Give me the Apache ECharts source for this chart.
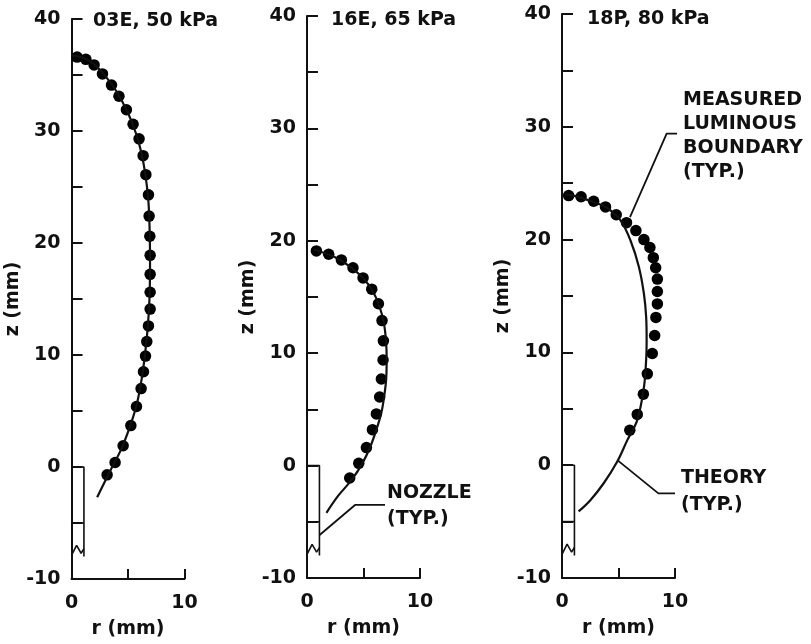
<!DOCTYPE html>
<html>
<head>
<meta charset="utf-8">
<title>Luminous boundary vs theory</title>
<script src="https://cdn.jsdelivr.net/npm/echarts@6/dist/echarts.min.js"></script>
<style>
  html, body { margin: 0; padding: 0; background: #fff; }
  #chart { width: 811px; height: 644px; }
</style>
</head>
<body>
<div id="chart"></div>
<script>
// panel labels
const panelTitles = ['03E, 50 kPa', '16E, 65 kPa', '18P, 80 kPa']

// measured luminous boundary, [r, z] in mm
const measured03E = [[0.5, 36.6], [1.27, 36.4], [2.0, 35.9], [2.74, 35.1], [3.54, 34.1], [4.2, 33.1], [4.86, 31.9], [5.45, 30.6], [5.98, 29.3], [6.34, 27.8], [6.58, 26.1], [6.81, 24.3], [6.87, 22.4], [6.93, 20.6], [6.96, 18.9], [6.96, 17.2], [6.96, 15.6], [6.96, 14.1], [6.81, 12.6], [6.66, 11.2], [6.55, 9.9], [6.37, 8.5], [6.16, 7.0], [5.75, 5.4], [5.25, 3.7], [4.57, 1.9], [3.86, 0.4], [3.15, -0.7]]
const measured16E = [[0.83, 19.1], [1.92, 18.8], [3.04, 18.3], [4.07, 17.6], [4.96, 16.7], [5.73, 15.7], [6.32, 14.4], [6.64, 12.9], [6.76, 11.1], [6.73, 9.4], [6.58, 7.7], [6.43, 6.1], [6.14, 4.6], [5.79, 3.2], [5.26, 1.6], [4.58, 0.2], [3.78, -1.1]]
const measured18P = [[0.59, 23.9], [1.69, 23.8], [2.8, 23.4], [3.85, 22.9], [4.8, 22.2], [5.71, 21.5], [6.54, 20.8], [7.25, 20.0], [7.78, 19.3], [8.08, 18.4], [8.29, 17.5], [8.44, 16.5], [8.44, 15.4], [8.44, 14.3], [8.31, 13.1], [8.2, 11.5], [7.99, 9.9], [7.55, 8.1], [7.2, 6.3], [6.66, 4.5], [6.0, 3.1]]

// theory curves, [r, z] in mm
const theory03E = [[0, 36.75], [1, 36.55], [2, 35.95], [3, 34.9], [4, 33.5], [5, 31.6], [5.7, 29.8], [6.2, 28], [6.55, 26], [6.8, 23.8], [6.92, 21], [6.95, 18], [6.9, 15], [6.75, 12.5], [6.5, 10], [6.2, 7.8], [5.8, 5.7], [5.2, 3.7], [4.4, 1.6], [3.4, -0.4], [2.27, -2.7]]
const theory16E = [[0.6, 19.2], [1, 19.1], [2, 18.75], [3, 18.25], [4, 17.55], [5, 16.65], [5.8, 15.55], [6.4, 14.2], [6.8, 12.7], [7.0, 11.0], [7.05, 9.4], [7.0, 7.6], [6.82, 6.1], [6.58, 4.7], [6.14, 3.2], [5.61, 1.7], [4.9, 0.2], [3.93, -1.3], [2.75, -2.7], [1.72, -4.2]]
const theory18P = [[0.3, 24.0], [1, 23.9], [2, 23.6], [3, 23.25], [4, 22.8], [5.18, 21.7], [6.07, 19.9], [6.8, 17.6], [7.25, 15.2], [7.45, 13.1], [7.49, 11.0], [7.45, 9.4], [7.25, 6.9], [6.66, 4.0], [5.77, 2.2], [4.88, 0.3], [3.69, -1.6], [2.51, -3.1], [1.47, -4.1]]

// nozzle sketch, same in each panel
const nozzleWall = [[0, 0], [1.1, 0], [1.1, -8.0]]
const nozzleJoint = [[0, -5], [1.1, -5]]
const nozzleBreak = [[0, -7.9], [0.45, -7.0], [0.85, -7.7], [1.1, -7.3]]

// leader lines for the callouts
const nozzleLeader = [[1.09, -6.2], [4.25, -3.5], [6.9, -3.5]]
const measuredLeader = [[6.02, 22.0], [9.26, 29.4], [10.6, 29.4]]
const theoryLeader = [[4.9, 0.45], [8.53, -2.5], [10.0, -2.5]]

const FONT = 'bold 19px "DejaVu Sans"'
const INK = '#111'

const grids = [
  { left: 71.5, top: 19, width: 113, height: 561 },
  { left: 307, top: 16, width: 113, height: 562 },
  { left: 562, top: 14, width: 113, height: 564 }
]

const textStyle = { fontFamily: 'DejaVu Sans', fontWeight: 'bold', fontSize: 19, color: INK }

const xAxes = grids.map((g, i) => ({
  gridIndex: i,
  type: 'value',
  min: 0,
  max: 10,
  interval: 5,
  name: 'r (mm)',
  nameLocation: 'middle',
  nameGap: 41,
  nameTextStyle: textStyle,
  axisLine: { onZero: false, lineStyle: { color: INK, width: 2 } },
  axisTick: { inside: true, length: 10, lineStyle: { color: INK, width: 2 } },
  axisLabel: Object.assign({
    margin: 15,
    formatter: (v) => (v === 5 ? '' : String(v))
  }, textStyle),
  splitLine: { show: false }
}))

const yAxes = grids.map((g, i) => ({
  gridIndex: i,
  type: 'value',
  min: -10,
  max: 40,
  interval: 5,
  name: 'z (mm)',
  nameLocation: 'middle',
  nameRotate: 90,
  nameGap: 47,
  nameTextStyle: textStyle,
  axisLine: { onZero: false, lineStyle: { color: INK, width: 2 } },
  axisTick: { inside: true, length: 11, lineStyle: { color: INK, width: 2 } },
  axisLabel: Object.assign({
    margin: 11,
    formatter: (v) => (v % 10 === 0 ? String(v) : '')
  }, textStyle),
  splitLine: { show: false }
}))

function lineSeries(data, idx, width) {
  return {
    type: 'line',
    xAxisIndex: idx,
    yAxisIndex: idx,
    data: data,
    showSymbol: false,
    symbol: 'none',
    clip: false,
    silent: true,
    lineStyle: { color: INK, width: width || 2 }
  }
}

function curveSeries(data, idx) {
  const s = lineSeries(data, idx, 2.2)
  s.smooth = 0.35
  return s
}

function dotSeries(data, idx) {
  return {
    type: 'scatter',
    xAxisIndex: idx,
    yAxisIndex: idx,
    data: data,
    symbolSize: 11.5,
    itemStyle: { color: '#000', opacity: 1 },
    silent: true
  }
}

const measuredSets = [measured03E, measured16E, measured18P]
const theorySets = [theory03E, theory16E, theory18P]

const series = []
for (let i = 0; i < 3; i++) {
  series.push(curveSeries(theorySets[i], i))
  series.push(dotSeries(measuredSets[i], i))
  series.push(lineSeries(nozzleWall, i, 1.6))
  series.push(lineSeries(nozzleJoint, i, 1.6))
  series.push(lineSeries(nozzleBreak, i, 1.6))
}
series.push(lineSeries(nozzleLeader, 1, 1.8))
series.push(lineSeries(measuredLeader, 2, 1.8))
series.push(lineSeries(theoryLeader, 2, 1.8))

function label(text, x, y) {
  return {
    type: 'text',
    x: x,
    y: y,
    silent: true,
    style: { text: text, font: FONT, fill: INK, textAlign: 'left', textVerticalAlign: 'middle' }
  }
}

const graphics = [
  label(panelTitles[0], 93, 21),
  label(panelTitles[1], 331, 20),
  label(panelTitles[2], 587, 19),
  label('NOZZLE', 387, 493),
  label('(TYP.)', 387, 519),
  label('THEORY', 681, 478),
  label('(TYP.)', 681, 505),
  label('MEASURED', 683, 100),
  label('LUMINOUS', 683, 124),
  label('BOUNDARY', 683, 148),
  label('(TYP.)', 683, 172)
]

const option = {
  backgroundColor: '#fff',
  animation: false,
  grid: grids,
  xAxis: xAxes,
  yAxis: yAxes,
  series: series,
  graphic: graphics
}

const myChart = echarts.init(document.getElementById('chart'))
myChart.setOption(option)
</script>
</body>
</html>
